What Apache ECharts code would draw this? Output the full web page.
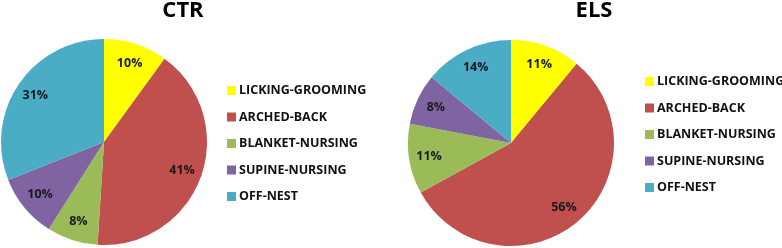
<!DOCTYPE html>
<html><head><meta charset="utf-8">
<script src="https://cdn.jsdelivr.net/npm/echarts@6/dist/echarts.min.js"></script>
<style>html,body{margin:0;padding:0;background:#fff}#c{width:782px;height:248px}</style>
</head><body><div id="c"></div>
<script>
const categories = ['LICKING-GROOMING','ARCHED-BACK','BLANKET-NURSING','SUPINE-NURSING','OFF-NEST'];
const colors = ['#FFFF00','#C0504D','#9BBB59','#8064A2','#4BACC6'];
const ctrValues = [10, 41, 8, 10, 31];
const elsValues = [11, 56, 11, 8, 14];
const titles = ['CTR','ELS'];

const FONT = '"Open Sans", "Liberation Sans", sans-serif';
function mk(vals){ return categories.map((n,i)=>({name:n, value:vals[i], itemStyle:{color:colors[i]}})); }
function ghost(vals){ return categories.map((n,i)=>({name:n, value:vals[i]})); }

const chart = echarts.init(document.getElementById('c'), null, {renderer:'canvas'});
const legendBase = {
  orient:'vertical', itemWidth:9, itemHeight:9, itemGap:13.5, icon:'rect', padding:0,
  data: categories, selectedMode:false,
  textStyle:{fontFamily:FONT, fontSize:12.5, fontWeight:'bold', color:'#111', padding:[0,0,0,-2]}
};
const labelBase = {show:true, position:'inside', formatter:'{c}%', fontFamily:FONT, fontSize:12.5, fontWeight:'bold', color:'#1a1a1a'};
const titleStyle = {fontFamily:FONT, fontSize:22, fontWeight:'bold', color:'#000'};
chart.setOption({
  animation:false,
  title:[
    {text:titles[0], left:183, top:0, padding:0, textAlign:'center', textStyle:titleStyle},
    {text:titles[1], left:594, top:0, padding:0, textAlign:'center', textStyle:titleStyle}
  ],
  legend:[
    Object.assign({left:227, top:84}, legendBase),
    Object.assign({left:645, top:75}, legendBase)
  ],
  series:[
    {type:'pie', center:[104,142], radius:[0,103], startAngle:90, clockwise:true, label:{show:false}, labelLine:{show:false}, silent:true, data:mk(ctrValues)},
    {type:'pie', center:[511,143], radius:[0,103], startAngle:90, clockwise:true, label:{show:false}, labelLine:{show:false}, silent:true, data:mk(elsValues)},
    {type:'pie', center:[104,142], radius:[60,100], startAngle:90, clockwise:true, silent:true, itemStyle:{color:'rgba(0,0,0,0)'}, label:labelBase, labelLine:{show:false}, legendHoverLink:false, data:ghost(ctrValues)},
    {type:'pie', center:[511,143], radius:[60,100], startAngle:90, clockwise:true, silent:true, itemStyle:{color:'rgba(0,0,0,0)'}, label:labelBase, labelLine:{show:false}, legendHoverLink:false, data:ghost(elsValues)}
  ]
});
</script></body></html>
